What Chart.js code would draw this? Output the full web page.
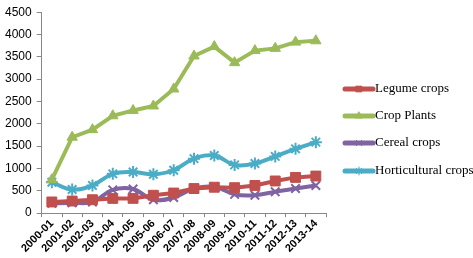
<!DOCTYPE html>
<html>
<head>
<meta charset="utf-8">
<script src="https://cdn.jsdelivr.net/npm/chart.js@4/dist/chart.umd.min.js"></script>
<style>
  html, body { margin: 0; padding: 0; background: #fff; }
  #wrap { width: 473px; height: 258px; position: relative; }
</style>
</head>
<body>
<div id="wrap"><canvas id="chart"></canvas></div>
<script>
const years = ['2000-01', '2001-02', '2002-03', '2003-04', '2004-05', '2005-06', '2006-07',
  '2007-08', '2008-09', '2009-10', '2010-11', '2011-12', '2012-13', '2013-14'];
const legumeCrops = [250, 270, 300, 330, 330, 400, 450, 550, 580, 570, 620, 720, 800, 830];
const cropPlants = [750, 1700, 1870, 2180, 2300, 2400, 2780, 3520, 3730, 3370, 3640, 3690, 3830, 3860];
const cerealCrops = [220, 230, 250, 520, 540, 300, 350, 550, 590, 420, 400, 480, 550, 620];
const horticulturalCrops = [690, 530, 620, 880, 920, 870, 960, 1220, 1290, 1080, 1110, 1270, 1440, 1590];
const yTicks = { min: 0, max: 4500, step: 500 };

const seriesLabels = ['Legume crops', 'Crop Plants', 'Cereal crops', 'Horticultural crops'];
const seriesColors = ['#C0504D', '#9BBB59', '#8064A2', '#4BACC6'];
const seriesMarkers = ['rect', 'triangle', 'crossRot', 'star'];
const seriesTension = [0, 0, 0.4, 0.4];
const seriesData = [legumeCrops, cropPlants, cerealCrops, horticulturalCrops];

const datasets = seriesLabels.map((label, i) => ({
  label: label,
  data: seriesData[i],
  borderColor: seriesColors[i],
  backgroundColor: seriesColors[i],
  borderWidth: 4,
  tension: seriesTension[i],
  pointStyle: seriesMarkers[i],
  pointRadius: i === 0 ? 7 : 6,
  pointBorderWidth: i >= 2 ? 2 : 1,
  pointBorderColor: seriesColors[i],
  pointBackgroundColor: seriesColors[i]
}));

// right-side legend drawn by hand (line sample with marker, serif text)
const sideLegend = {
  id: 'sideLegend',
  afterDraw(chart) {
    const ctx = chart.ctx;
    const x0 = 345, x1 = 373, rowY = [89, 116, 143, 171];
    ctx.save();
    chart.data.datasets.forEach((ds, i) => {
      const y = rowY[i];
      ctx.strokeStyle = ds.borderColor;
      ctx.fillStyle = ds.borderColor;
      ctx.lineWidth = 5;
      ctx.lineCap = 'round';
      ctx.beginPath();
      ctx.moveTo(x0, y);
      ctx.lineTo(x1, y);
      ctx.stroke();
      ctx.lineWidth = 1;
      Chart.helpers.drawPoint(ctx, {
        pointStyle: ds.pointStyle, radius: 4, borderWidth: 1
      }, (x0 + x1) / 2, y);
      ctx.fillStyle = '#000';
      ctx.font = '13px "Liberation Serif", serif';
      ctx.textBaseline = 'middle';
      ctx.fillText(ds.label, x1 + 2, y);
    });
    ctx.restore();
  }
};

new Chart(document.getElementById('chart'), {
  type: 'line',
  data: { labels: years, datasets: datasets },
  options: {
    responsive: true,
    maintainAspectRatio: false,
    animation: false,
    layout: { padding: { top: 5, right: 147, left: 0, bottom: 3 } },
    plugins: {
      legend: { display: false },
      tooltip: { enabled: false }
    },
    scales: {
      x: {
        offset: true,
        grid: { offset: true, drawOnChartArea: false, tickLength: 4, color: '#888' },
        border: { color: '#888', width: 1 },
        ticks: {
          minRotation: 45, maxRotation: 45, autoSkip: false, padding: 0,
          color: '#000',
          font: { family: '"Liberation Sans", Arial, sans-serif', size: 11, weight: 'bold' }
        }
      },
      y: {
        min: yTicks.min, max: yTicks.max,
        grid: { drawOnChartArea: false, tickLength: 5, color: '#888' },
        border: { color: '#888', width: 1 },
        ticks: {
          stepSize: yTicks.step, padding: 5, color: '#000',
          callback: v => String(v),
          font: { family: '"Liberation Sans", Arial, sans-serif', size: 12 }
        }
      }
    }
  },
  plugins: [sideLegend]
});
</script>
</body>
</html>
